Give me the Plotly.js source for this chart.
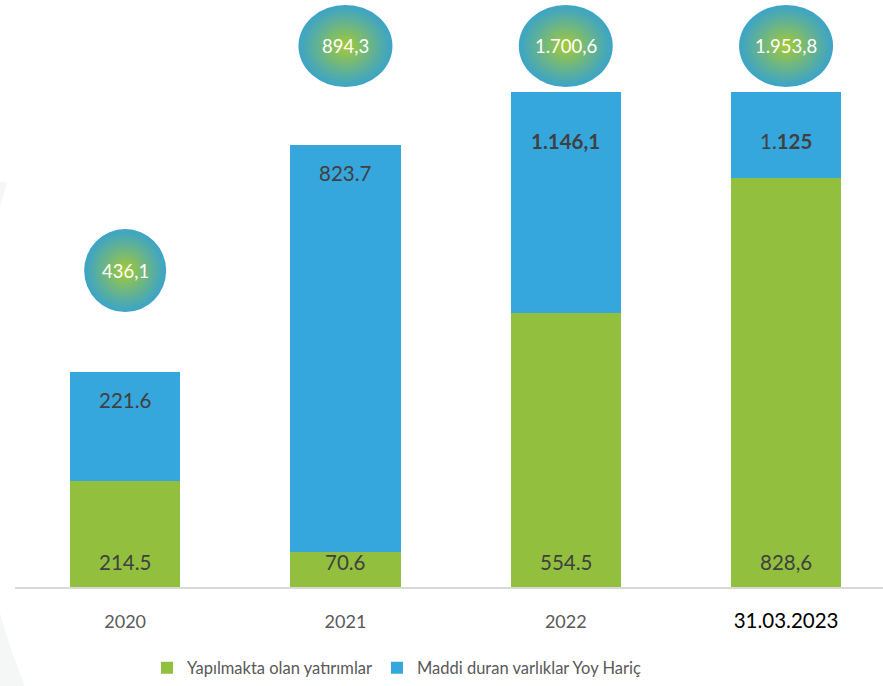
<!DOCTYPE html>
<html>
<head>
<meta charset="utf-8">
<script src="https://cdn.plot.ly/plotly-3.0.1.min.js"></script>
<style>html,body{margin:0;padding:0;background:#fff;}#chart{width:883px;height:686px;}</style>
</head>
<body>
<div id="chart"></div>
<script>
// ---- data ----
const categories = ['2020', '2021', '2022', '31.03.2023'];
const tickLabels = ['2020', '2021', '2022', '<span style="color:#000000;font-size:20.5px">31.03.2023</span>'];
const greenValues = [214.5, 70.6, 554.5, 828.6];
const blueValues = [221.6, 823.7, 1146.1, 1125];
const totalValues = [436.1, 894.3, 1700.6, 1953.8];
const greenLabels = ['214.5', '70.6', '554.5', '828,6'];
const blueLabels = ['221.6', '823.7', '<b>1.146,1</b>', '1.<b>125</b>'];
const totalLabels = ['436,1', '894,3', '1.700,6', '1.953,8'];
const seriesNames = ['Yapılmakta olan yatırımlar', 'Maddi duran varlıklar Yoy Hariç'];

// ---- style / layout constants ----
const W = 883, H = 686;
const M = {l: 15, r: 0, t: 92, b: 99};
const plotH = H - M.t - M.b;
const plotW = W - M.l - M.r;
const yMax = 1002;
const GREEN = '#92c03e', BLUE = '#35a7dd', TXT = '#404040';
const FONT = 'Lato, "Open Sans", sans-serif';
const ellipseW = [82, 94, 94, 94];
const ellipseH = [83, 82, 82, 82];
const EDGE = [63, 165, 196], CENTER = [164, 201, 56];

const baseY = M.t + plotH;
function toPy(v) { return baseY - Math.min(v, yMax) / yMax * plotH; }
function paperY(py) { return (baseY - py) / plotH; }
function paperX(px) { return (px - M.l) / plotW; }

const traces = [
  {type: 'bar', name: seriesNames[0], x: categories, y: greenValues, width: 0.5,
   marker: {color: GREEN}, hoverinfo: 'skip'},
  {type: 'bar', name: seriesNames[1], x: categories, y: blueValues, width: 0.5,
   marker: {color: BLUE}, hoverinfo: 'skip'}
];

const shapes = [];
const annotations = [];

// faint decorative arc at the left edge
(function () {
  const cx = 722, cy = 410, r = 750;
  let d = '';
  const pts = [];
  for (let py = 182; py <= H; py += 6) {
    const dy = py - cy;
    const px = cx - Math.sqrt(r * r - dy * dy);
    pts.push([px, py]);
  }
  pts.forEach((p, k) => { d += (k ? 'L' : 'M') + paperX(p[0]).toFixed(4) + ',' + paperY(p[1]).toFixed(4); });
  d += 'L' + paperX(-5).toFixed(4) + ',' + paperY(H).toFixed(4);
  d += 'L' + paperX(-5).toFixed(4) + ',' + paperY(182).toFixed(4) + 'Z';
  shapes.push({type: 'path', xref: 'paper', yref: 'paper', path: d, fillcolor: '#f4f7f5',
    line: {width: 0}, layer: 'below'});
})();

const N = 26;
categories.forEach((c, i) => {
  const topPy = toPy(totalValues[i]);
  const cPy = Math.max(topPy - 101, 46);
  const yp = paperY(cPy);
  for (let k = 0; k < N; k++) {
    const s = 1 - k / N;
    const t = Math.pow(k / (N - 1), 1.1);
    const col = EDGE.map((e, j) => Math.round(e + (CENTER[j] - e) * t));
    const hw = ellipseW[i] / 2 * s, hh = ellipseH[i] / 2 * s;
    shapes.push({type: 'circle', xref: 'x', yref: 'paper', xsizemode: 'pixel', ysizemode: 'pixel',
      xanchor: i, yanchor: yp, x0: -hw, x1: hw, y0: -hh, y1: hh,
      fillcolor: 'rgb(' + col.join(',') + ')', line: {width: 0}, layer: 'above'});
  }
  annotations.push({xref: 'x', yref: 'paper', x: i, y: yp, text: totalLabels[i], showarrow: false,
    xanchor: 'center', yanchor: 'middle', font: {family: FONT, size: 18.5, color: '#ffffff'}});
  annotations.push({xref: 'x', yref: 'y', x: i, y: 0, yshift: 25, text: greenLabels[i], showarrow: false,
    xanchor: 'center', yanchor: 'middle', font: {family: FONT, size: 20.5, color: TXT}});
  const capped = totalValues[i] > yMax;
  annotations.push({xref: 'x', yref: 'y', x: i, y: Math.min(totalValues[i], yMax), yshift: capped ? -49 : -28,
    text: blueLabels[i], showarrow: false, xanchor: 'center', yanchor: 'middle',
    font: {family: FONT, size: 20.5, color: TXT}});
});

const layout = {
  width: W, height: H,
  margin: M,
  paper_bgcolor: '#ffffff', plot_bgcolor: 'rgba(0,0,0,0)',
  barmode: 'stack',
  showlegend: true,
  legend: {orientation: 'h', x: paperX(147), xanchor: 'left', y: paperY(668), yanchor: 'middle',
    font: {family: FONT, size: 16.5, color: '#595959'}, traceorder: 'normal', bgcolor: 'rgba(0,0,0,0)'},
  xaxis: {type: 'category', range: [-0.5, 3.44], showline: true, linecolor: '#d9d9d9', linewidth: 2,
    showgrid: false, zeroline: false, ticks: '', tickvals: categories, ticktext: tickLabels,
    tickfont: {family: FONT, size: 18, color: '#595959'}, ticklabelstandoff: 17, fixedrange: true},
  yaxis: {range: [0, yMax], visible: false, showgrid: false, zeroline: false, fixedrange: true},
  shapes: shapes,
  annotations: annotations
};

Plotly.newPlot('chart', traces, layout, {displayModeBar: false, staticPlot: true});
</script>
</body>
</html>
